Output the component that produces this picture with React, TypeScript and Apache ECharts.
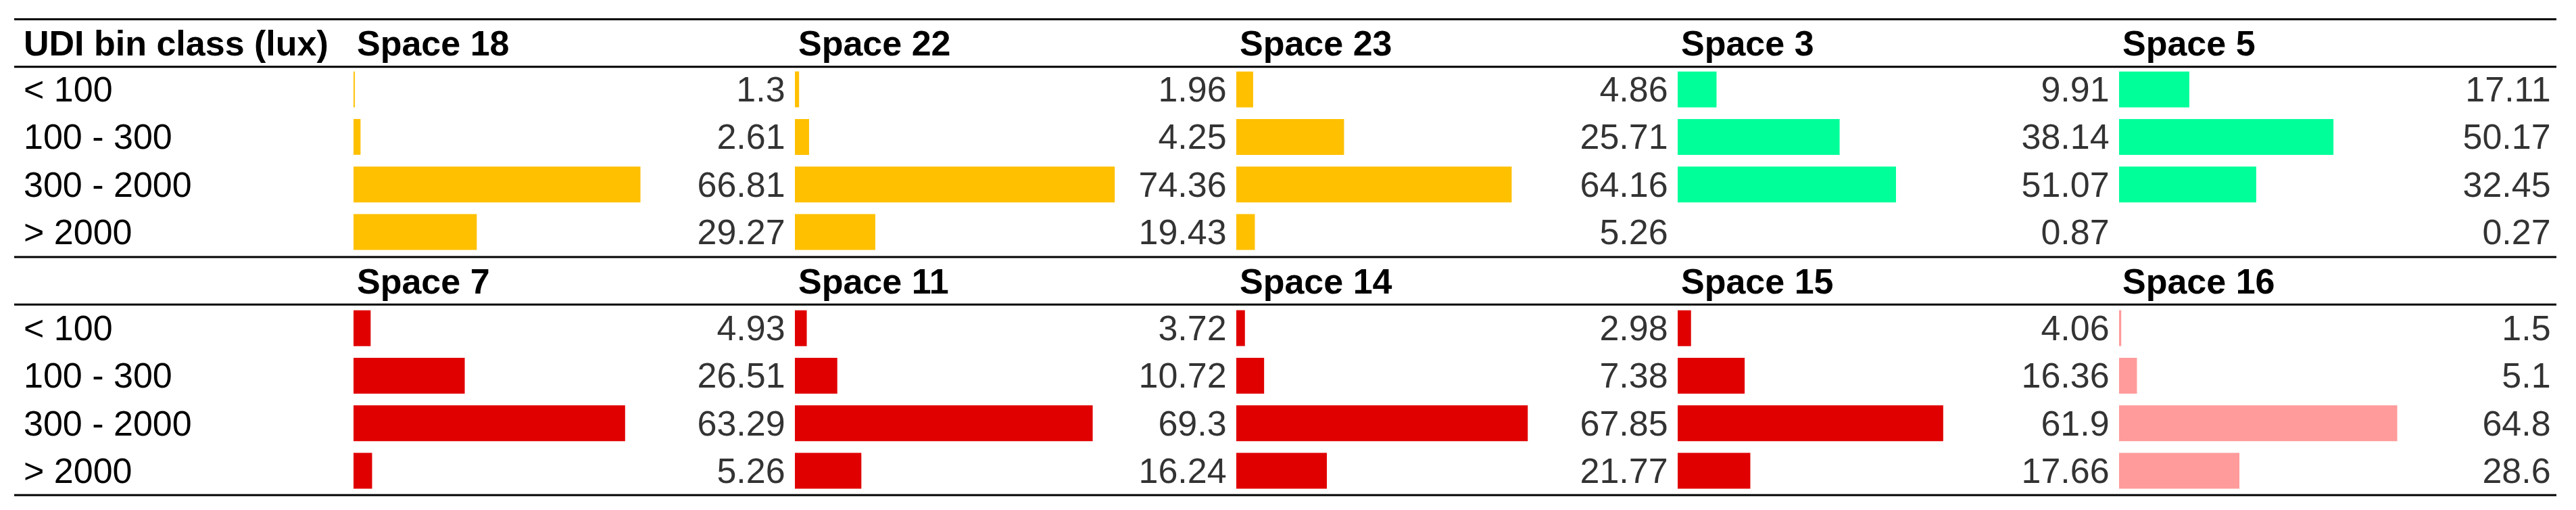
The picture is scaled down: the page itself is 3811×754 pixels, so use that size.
import React, { useEffect, useRef } from 'react';
import * as echarts from 'echarts';

// ---- data ----
const binClasses = ['< 100', '100 - 300', '300 - 2000', '> 2000'];
const headerLabel = 'UDI bin class (lux)';

const topSpaces = ['Space 18', 'Space 22', 'Space 23', 'Space 3', 'Space 5'];
const bottomSpaces = ['Space 7', 'Space 11', 'Space 14', 'Space 15', 'Space 16'];

const space18 = [1.3, 2.61, 66.81, 29.27];
const space22 = [1.96, 4.25, 74.36, 19.43];
const space23 = [4.86, 25.71, 64.16, 5.26];
const space3 = [9.91, 38.14, 51.07, 0.87];
const space5 = [17.11, 50.17, 32.45, 0.27];

const space7 = [4.93, 26.51, 63.29, 5.26];
const space11 = [3.72, 10.72, 69.3, 16.24];
const space14 = [2.98, 7.38, 67.85, 21.77];
const space15 = [4.06, 16.36, 61.9, 17.66];
const space16 = [1.5, 5.1, 64.8, 28.6];

const topValues = [space18, space22, space23, space3, space5];
const bottomValues = [space7, space11, space14, space15, space16];

const YELLOW = '#FFC000';
const GREEN = '#00FF99';
const RED = '#E00000';
const PINK = '#FF9B9B';
const topColors = [YELLOW, YELLOW, YELLOW, GREEN, GREEN];
const bottomColors = [RED, RED, RED, RED, PINK];

// ---- layout ----
const W = 3811;
const H = 754;
const FONT = '"Liberation Sans", Arial, sans-serif';
const FS = 52;
const COL0 = 523;
const PITCH = 653;
const GRID_W = 638.6;
const AX_MIN = 1;
const AX_MAX = 100;
const LINE_X0 = 21;
const LINE_X1 = 3782;
const panels = [
  { lines: [28.5, 98.8, 380], gridTop: 97, headerY: 63.5, names: topSpaces, values: topValues, colors: topColors, title: headerLabel },
  { lines: [380, 450.3, 732], gridTop: 450, headerY: 415.5, names: bottomSpaces, values: bottomValues, colors: bottomColors, title: '' },
];
const GRID_H = 281;

function buildOption() {
  const grid: any[] = [];
  const xAxis: any[] = [];
  const yAxis: any[] = [];
  const series: any[] = [];
  const graphic: any[] = [];
  let k = 0;
  panels.forEach((p) => {
    p.names.forEach((name, j) => {
      const left = COL0 + j * PITCH;
      grid.push({ left, top: p.gridTop, width: GRID_W, height: GRID_H, containLabel: false });
      xAxis.push({
        type: 'value', gridIndex: k, min: AX_MIN, max: AX_MAX, show: false,
        splitLine: { show: false },
      });
      yAxis.push({
        type: 'category', gridIndex: k, data: binClasses, inverse: true,
        axisLine: { show: false }, axisTick: { show: false }, splitLine: { show: false },
        axisLabel: {
          show: j === 0, align: 'left', margin: left - 35, fontSize: FS,
          color: '#000', fontFamily: FONT,
        },
      });
      series.push({
        type: 'bar', name, xAxisIndex: k, yAxisIndex: k, barWidth: 53, clip: true,
        itemStyle: { color: p.colors[j] }, data: p.values[j], silent: true,
      });
      series.push({
        type: 'scatter', xAxisIndex: k, yAxisIndex: k, symbolSize: 0, silent: true, clip: false,
        data: p.values[j].map((v, i) => [AX_MAX, i, v]),
        label: {
          show: true, position: 'left', distance: 0, fontSize: FS, color: '#000', fontFamily: FONT,
          formatter: (d: any) => String(d.value[2]),
        },
      });
      graphic.push({
        type: 'text', x: left + 5, y: p.headerY,
        style: { text: name, fontSize: FS, fontWeight: 'bold', fontFamily: FONT, fill: '#000', textVerticalAlign: 'middle', textAlign: 'left' },
      });
      k++;
    });
    if (p.title) {
      graphic.push({
        type: 'text', x: 35, y: p.headerY,
        style: { text: p.title, fontSize: FS, fontWeight: 'bold', fontFamily: FONT, fill: '#000', textVerticalAlign: 'middle', textAlign: 'left' },
      });
    }
  });
  const lineYs = Array.from(new Set(panels.flatMap((p) => p.lines)));
  lineYs.forEach((y) => {
    graphic.push({
      type: 'line', shape: { x1: LINE_X0, y1: y, x2: LINE_X1, y2: y },
      style: { stroke: '#000', lineWidth: 3 }, silent: true,
    });
  });
  return {
    animation: false,
    backgroundColor: '#fff',
    textStyle: { fontFamily: FONT },
    grid, xAxis, yAxis, series, graphic,
  };
}

export default function App() {
  const ref = useRef<HTMLDivElement>(null);
  useEffect(() => {
    document.body.style.margin = '0';
    const chart = echarts.init(ref.current!, undefined, { renderer: 'svg', width: W, height: H });
    chart.setOption(buildOption());
    return () => chart.dispose();
  }, []);
  return <div ref={ref} style={{ position: 'absolute', left: 0, top: 0, width: W, height: H, background: '#fff' }} />;
}
